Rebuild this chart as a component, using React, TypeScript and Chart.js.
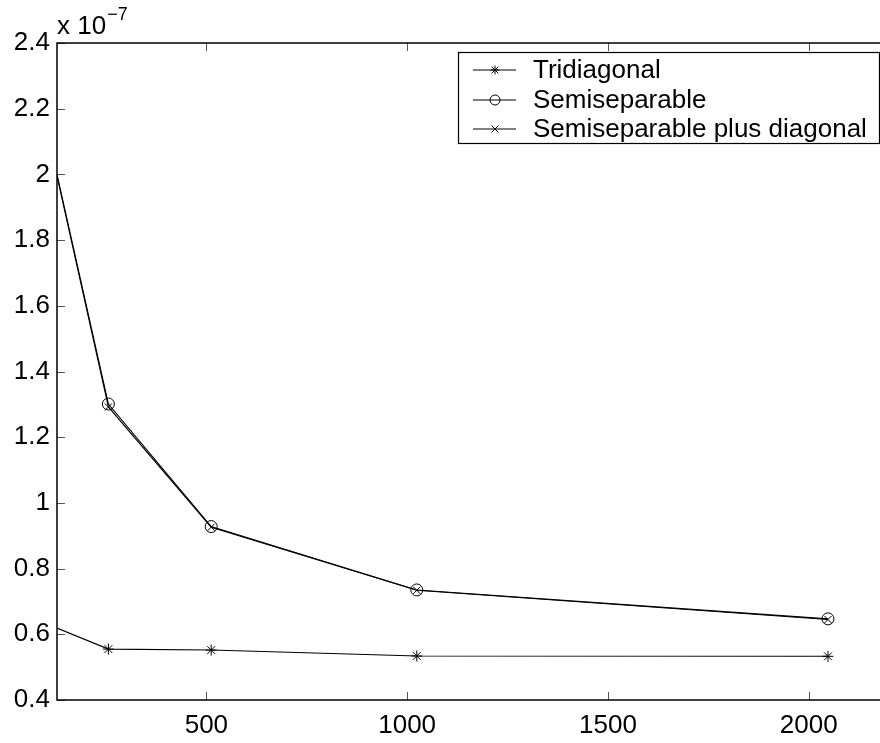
import React, { useEffect, useRef } from "react";
import { Chart, registerables } from "chart.js";

Chart.register(...registerables);

// Problem sizes (x) and errors in units of 1e-7
const sizes = [128, 256, 512, 1024, 2048];
const tridiagonal = [0.619, 0.555, 0.552, 0.534, 0.533];
const semiseparable = [2.0, 1.301, 0.928, 0.735, 0.647];
const semiPlusDiag = [1.995, 1.292, 0.926, 0.734, 0.645];
const seriesNames = ["Tridiagonal", "Semiseparable", "Semiseparable plus diagonal"];
const xTicks = [500, 1000, 1500, 2000];
const yTicks = [0.4, 0.6, 0.8, 1, 1.2, 1.4, 1.6, 1.8, 2, 2.2, 2.4];
const xRange = [128, 2200];
const yRange = [0.4, 2.4];
const exponentLabel = "\u22127";

const FONT = "'Liberation Sans', Arial, Helvetica, sans-serif";

const matlabPlugin = {
  id: "matlabDecor",
  afterDraw(chart: any) {
    const ctx = chart.ctx;
    const { left, right, top, bottom } = chart.chartArea;
    const xs = chart.scales.x;
    const ys = chart.scales.y;
    ctx.save();
    // ticks (inward)
    ctx.strokeStyle = "#555";
    ctx.lineWidth = 1;
    const tl = 8;
    xTicks.forEach((v) => {
      const px = Math.round(xs.getPixelForValue(v)) + 0.5;
      ctx.beginPath();
      ctx.moveTo(px, bottom);
      ctx.lineTo(px, bottom - tl);
      ctx.moveTo(px, top);
      ctx.lineTo(px, top + tl);
      ctx.stroke();
    });
    yTicks.forEach((v) => {
      const py = Math.round(ys.getPixelForValue(v)) + 0.5;
      ctx.beginPath();
      ctx.moveTo(left, py);
      ctx.lineTo(left + tl, py);
      ctx.moveTo(right, py);
      ctx.lineTo(right - tl, py);
      ctx.stroke();
    });
    // box
    ctx.strokeStyle = "#000";
    ctx.lineWidth = 1.5;
    ctx.strokeRect(left, top, right - left, bottom - top);

    // exponent label
    ctx.fillStyle = "#000";
    ctx.textBaseline = "alphabetic";
    ctx.textAlign = "left";
    ctx.font = `26px ${FONT}`;
    ctx.fillText("x 10", left, 34);
    const w = ctx.measureText("x 10").width;
    ctx.font = `18px ${FONT}`;
    ctx.fillText(exponentLabel, left + w + 1, 20);

    // legend
    const lx = 458.5, ly = 52.5, lw = 421, lh = 91;
    ctx.fillStyle = "#fff";
    ctx.fillRect(lx, ly, lw, lh);
    ctx.strokeStyle = "#000";
    ctx.lineWidth = 1.2;
    ctx.strokeRect(lx, ly, lw, lh);
    const rows = [70, 100, 129];
    const styles = ["star", "circle", "crossRot"];
    rows.forEach((ry, i) => {
      ctx.strokeStyle = "#000";
      ctx.lineWidth = 1;
      ctx.beginPath();
      ctx.moveTo(473, ry);
      ctx.lineTo(516, ry);
      ctx.stroke();
      ctx.strokeStyle = "#000";
      ctx.fillStyle = "#fff";
      ctx.lineWidth = 1;
      // @ts-ignore
      (Chart as any).helpers?.drawPoint
        ? null
        : null;
      drawMarker(ctx, styles[i], 495, ry, i === 1 ? 5 : 4.5);
      ctx.fillStyle = "#000";
      ctx.font = `26px ${FONT}`;
      ctx.textBaseline = "middle";
      ctx.textAlign = "left";
      ctx.fillText(seriesNames[i], 533, ry + 1);
    });
    ctx.restore();
  },
};

function drawMarker(ctx: CanvasRenderingContext2D, style: string, x: number, y: number, r: number) {
  ctx.beginPath();
  if (style === "circle") {
    ctx.arc(x, y, r, 0, Math.PI * 2);
  } else if (style === "crossRot") {
    const d = r * 0.75;
    ctx.moveTo(x - d, y - d);
    ctx.lineTo(x + d, y + d);
    ctx.moveTo(x - d, y + d);
    ctx.lineTo(x + d, y - d);
  } else {
    const d = r * 0.75;
    ctx.moveTo(x, y - r);
    ctx.lineTo(x, y + r);
    ctx.moveTo(x - r, y);
    ctx.lineTo(x + r, y);
    ctx.moveTo(x - d, y - d);
    ctx.lineTo(x + d, y + d);
    ctx.moveTo(x - d, y + d);
    ctx.lineTo(x + d, y - d);
  }
  ctx.stroke();
}

export default function App() {
  const ref = useRef<HTMLCanvasElement | null>(null);
  useEffect(() => {
    if (!ref.current) return;
    const mk = (vals: number[]) => sizes.map((x, i) => ({ x, y: vals[i] }));
    const radii = sizes.map((_, i) => (i === 0 ? 0 : 1));
    const chart = new Chart(ref.current, {
      type: "line",
      data: {
        datasets: [
          {
            label: seriesNames[0],
            data: mk(tridiagonal),
            borderColor: "#000",
            borderWidth: 1.1,
            pointStyle: "star",
            pointRadius: radii.map((r) => r * 5.5),
            pointBorderColor: "#000",
            pointBorderWidth: 1,
            pointBackgroundColor: "#000",
            clip: 0 as any,
          },
          {
            label: seriesNames[1],
            data: mk(semiseparable),
            borderColor: "#000",
            borderWidth: 1.1,
            pointStyle: "circle",
            pointRadius: radii.map((r) => r * 6),
            pointBorderColor: "#000",
            pointBorderWidth: 1,
            pointBackgroundColor: "rgba(0,0,0,0)",
            clip: 0 as any,
          },
          {
            label: seriesNames[2],
            data: mk(semiPlusDiag),
            borderColor: "#000",
            borderWidth: 1.1,
            pointStyle: "crossRot",
            pointRadius: radii.map((r) => r * 5),
            pointBorderColor: "#000",
            pointBorderWidth: 1,
            pointBackgroundColor: "#000",
            clip: 0 as any,
          },
        ],
      },
      options: {
        animation: false,
        responsive: false,
        layout: { padding: { top: 43, right: 11, left: 0, bottom: 0 } },
        plugins: { legend: { display: false }, tooltip: { enabled: false } },
        elements: { line: { tension: 0 } },
        scales: {
          x: {
            type: "linear",
            min: xRange[0],
            max: xRange[1],
            grid: { display: false, drawTicks: false },
            border: { display: false },
            afterBuildTicks: (s: any) => {
              s.ticks = xTicks.map((v) => ({ value: v }));
            },
            afterFit: (s: any) => {
              s.height = 43;
            },
            ticks: {
              autoSkip: false,
              maxRotation: 0,
              padding: 10,
              color: "#000",
              font: { family: FONT, size: 26 },
              callback: (v: any) => String(v),
            },
          },
          y: {
            type: "linear",
            min: yRange[0],
            max: yRange[1],
            grid: { display: false, drawTicks: false },
            border: { display: false },
            afterBuildTicks: (s: any) => {
              s.ticks = yTicks.map((v) => ({ value: v }));
            },
            afterFit: (s: any) => {
              s.width = 57;
            },
            ticks: {
              autoSkip: false,
              padding: 7,
              color: "#000",
              font: { family: FONT, size: 26 },
              callback: (v: any) => String(Number(Number(v).toFixed(1))),
            },
          },
        },
      },
      plugins: [matlabPlugin],
    });
    return () => chart.destroy();
  }, []);
  return (
    <div
      style={{
        position: "fixed",
        left: 0,
        top: 0,
        width: 880,
        height: 743,
        overflow: "hidden",
        background: "#fff",
      }}
    >
      <canvas ref={ref} width={900} height={743} style={{ width: 900, height: 743, display: "block" }} />
    </div>
  );
}
